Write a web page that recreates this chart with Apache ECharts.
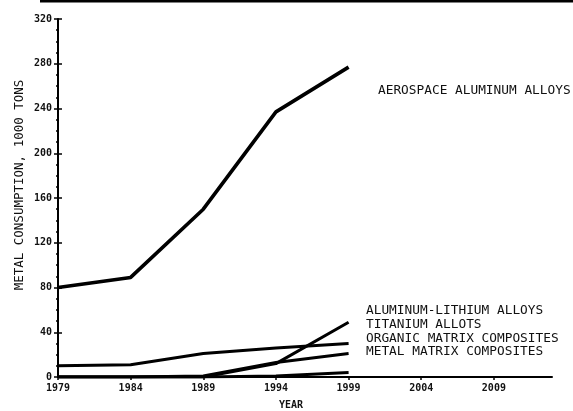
<!DOCTYPE html>
<html>
<head>
<meta charset="utf-8">
<script src="https://cdn.jsdelivr.net/npm/echarts@6/dist/echarts.min.js"></script>
<style>html,body{margin:0;padding:0;background:#fff}#c{width:573px;height:411px}</style>
</head>
<body>
<div id="c"></div>
<script>
const years = [1979, 1984, 1989, 1994, 1999];
const tickYears = [1979, 1984, 1989, 1994, 1999, 2004, 2009];
const aerospaceAluminum = [80, 89, 150, 237, 277];
const aluminumLithium = [0, 0, 0, 12, 49];
const titanium = [10, 11, 21, 26, 30];
const organicMatrix = [0, 0, 1, 13, 21];
const metalMatrix = [0, 0, 0, 1, 4];
const seriesNames = ['AEROSPACE ALUMINUM ALLOYS', 'ALUMINUM-LITHIUM ALLOYS', 'TITANIUM ALLOTS', 'ORGANIC MATRIX COMPOSITES', 'METAL MATRIX COMPOSITES'];
const yTitle = 'METAL CONSUMPTION, 1000 TONS';
const xTitle = 'YEAR';

const allSeries = [aerospaceAluminum, aluminumLithium, titanium, organicMatrix, metalMatrix];
const mono = 'DejaVu Sans Mono';
const chart = echarts.init(document.getElementById('c'));
const labelY = [91, 311, 325, 339, 352];
const tickLabel = {fontFamily: mono, fontWeight: 'bold', fontSize: 10, color: '#111'};
chart.setOption({
  animation: false,
  backgroundColor: '#fff',
  grid: {left: 58, right: 21, top: 19, bottom: 34},
  xAxis: [{
    type: 'value', min: 1979, max: 2013,
    axisLine: {lineStyle: {color: '#000', width: 2}},
    axisTick: {customValues: tickYears, length: 3, lineStyle: {color: '#000', width: 1.5}},
    axisLabel: Object.assign({customValues: tickYears, margin: 6, formatter: v => String(v)}, tickLabel),
    splitLine: {show: false}
  }],
  yAxis: [{
    type: 'value', min: 0, max: 320, interval: 40,
    axisLine: {show: true, lineStyle: {color: '#000', width: 2}},
    axisTick: {show: true, length: 4, lineStyle: {color: '#000', width: 1.5}},
    minorTick: {show: true, splitNumber: 4, length: 2, lineStyle: {color: '#000', width: 1.5}},
    axisLabel: Object.assign({margin: 6}, tickLabel),
    splitLine: {show: false}
  }, {
    type: 'value', min: 0, max: 320, interval: 40, position: 'left',
    axisLine: {show: false},
    axisTick: {show: true, inside: true, length: 4, lineStyle: {color: '#000', width: 1.5}},
    axisLabel: {show: false},
    splitLine: {show: false}
  }],
  series: allSeries.map((vals, i) => ({
    name: seriesNames[i],
    type: 'line',
    data: years.map((y, j) => [y, vals[j]]),
    symbol: 'none',
    lineStyle: {color: '#000', width: i === 0 ? 3.6 : 3},
    z: 3
  })),
  graphic: [
    {type: 'line', shape: {x1: 40, y1: 1, x2: 573, y2: 1}, style: {stroke: '#000', lineWidth: 3}},
    {type: 'text', x: 20, y: 185, rotation: Math.PI / 2,
     style: {text: yTitle, font: '12.5px "' + mono + '"', fill: '#111', align: 'center', verticalAlign: 'middle'}},
    {type: 'text', x: 291, y: 405,
     style: {text: xTitle, font: 'bold 10px "' + mono + '"', fill: '#111', align: 'center', verticalAlign: 'middle'}}
  ].concat(seriesNames.map((n, i) => ({
    type: 'text', x: i === 0 ? 378 : 366, y: labelY[i],
    style: {text: n, font: '12.8px "' + mono + '"', fill: '#111', align: 'left', verticalAlign: 'middle'}
  })))
});
</script>
</body>
</html>
